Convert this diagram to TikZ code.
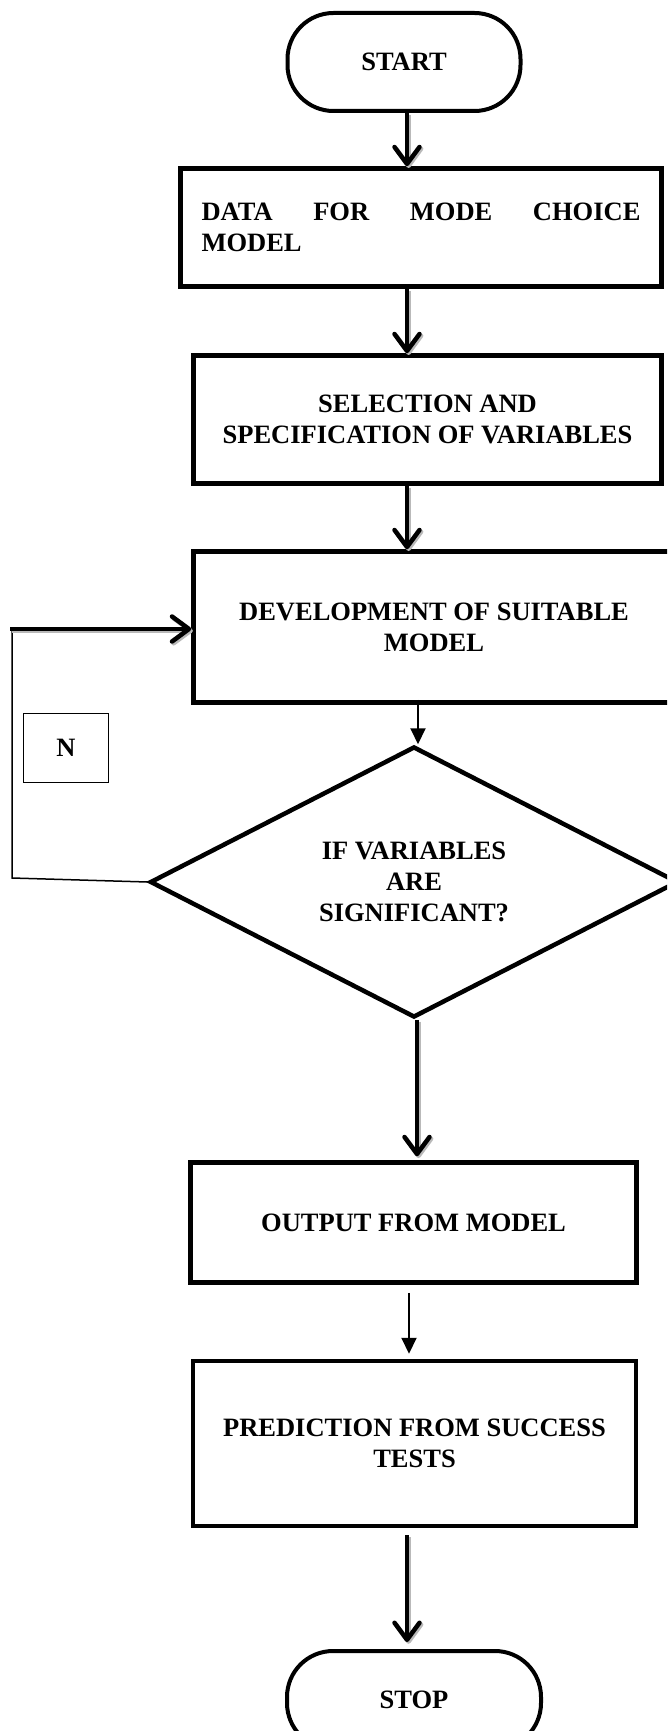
\documentclass[tikz,border=0pt]{standalone}
\usepackage{fontspec}
\setmainfont{Liberation Serif}
\usetikzlibrary{arrows.meta,shapes.geometric,calc}
\begin{document}
\begin{tikzpicture}[x=1pt,y=-1pt,
  txt/.style={font=\fontsize{26.5}{31}\selectfont\bfseries, align=center},
  box/.style={txt, draw, line width=4.5pt, rectangle, inner sep=0pt},
  term/.style={txt, draw, line width=4pt, rectangle, rounded corners=46pt, inner sep=0pt},
  thk/.style={line width=4.5pt, -{Straight Barb[length=17pt,width=25pt,line width=4.5pt,round]}},
  thn/.style={line width=2pt, -{Triangle[length=16pt,width=15pt]}},
  shd/.style={draw=gray!55, transform canvas={shift={(1.6pt,-1.8pt)}}},
]
\useasboundingbox (0,0) rectangle (667,1731);
\clip (0,0) rectangle (667,1731);

% nodes
\node[term, minimum width=233pt, minimum height=98pt] (start) at (404,62) {START};
\node[box, minimum width=481pt, minimum height=118pt] (data) at (421,227.5)
  {\makebox[439pt][l]{DATA\hfill FOR\hfill MODE\hfill CHOICE}\\\makebox[439pt][l]{MODEL}};
\node[box, minimum width=468pt, minimum height=128pt] (sel) at (427.5,419.5)
  {SELECTION AND\\SPECIFICATION OF VARIABLES};
\node[box, minimum width=481pt, minimum height=151pt] (dev) at (434,627)
  {DEVELOPMENT OF SUITABLE\\MODEL};
\node[txt, draw, line width=4.5pt, diamond, inner sep=0pt, minimum width=528pt, minimum height=271pt] (diam) at (414,882)
  {IF VARIABLES\\ARE\\SIGNIFICANT?};
\node[txt, draw, line width=1.5pt, rectangle, minimum width=85pt, minimum height=69pt, inner sep=0pt] (n) at (66,748) {N};
\node[box, minimum width=446pt, minimum height=120pt] (out) at (413.5,1222.5)
  {OUTPUT FROM MODEL};
\node[box, minimum width=443pt, minimum height=165pt] (pred) at (414.5,1443.5)
  {PREDICTION FROM SUCCESS\\TESTS};
\node[term, minimum width=254pt, minimum height=98pt] (stop) at (414,1700) {STOP};

% connectors
\draw[thk, shd] (start.south -| 407,0) -- (data.north -| 407,0);
\draw[thk] (start.south -| 407,0) -- (data.north -| 407,0);

\draw[thk, shd] (data.south -| 407,0) -- (sel.north -| 407,0);
\draw[thk] (data.south -| 407,0) -- (sel.north -| 407,0);

\draw[thk, shd] (sel.south -| 407,0) -- (dev.north -| 407,0);
\draw[thk] (sel.south -| 407,0) -- (dev.north -| 407,0);

\draw[thn, shorten <=-5pt] (dev.south -| 418,0) -- (diam.north -| 418,0);

\draw[thk, shd, shorten >=4pt] (diam.south -| 417,0) -- (out.north -| 417,0);
\draw[thk, shorten >=4pt] (diam.south -| 417,0) -- (out.north -| 417,0);

\draw[thn, shorten <=8pt, shorten >=5pt] (out.south -| 409,0) -- (pred.north -| 409,0);

\draw[thk, shd, shorten <=7pt, shorten >=7pt] (pred.south -| 407,0) -- (stop.north -| 407,0);
\draw[thk, shorten <=7pt, shorten >=7pt] (pred.south -| 407,0) -- (stop.north -| 407,0);

% feedback loop
\coordinate (fbL) at (12,878);
\coordinate (fbT) at (12,629);
\draw[line width=1.5pt] (diam.west) -- (fbL) -- (fbT);
\draw[thk, shd] ([xshift=-2pt]fbT) -- (fbT -| dev.west);
\draw[thk] ([xshift=-2pt]fbT) -- (fbT -| dev.west);
\end{tikzpicture}
\end{document}
